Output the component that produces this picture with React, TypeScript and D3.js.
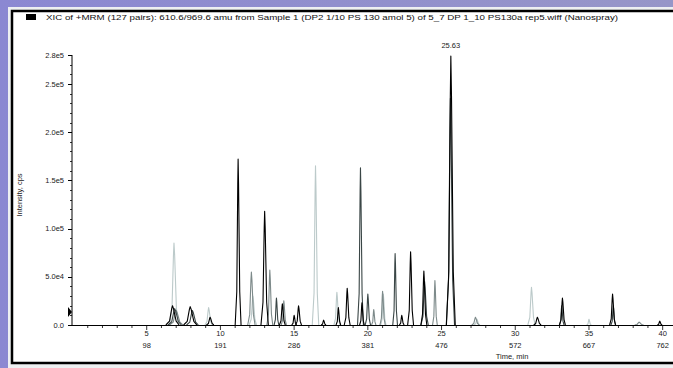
import React from "react";
import * as d3 from "d3";

const W = 673;
const H = 368;

const titleText =
  "XIC of +MRM (127 pairs): 610.6/969.6 amu from Sample 1 (DP2 1/10 PS 130 amol 5) of 5_7 DP 1_10 PS130a rep5.wiff (Nanospray)";

const yTickValues = [0, 5e4, 1e5, 1.5e5, 2e5, 2.5e5, 2.8e5];
const yTickLabels = ["0.0", "5.0e4", "1.0e5", "1.5e5", "2.0e5", "2.5e5", "2.8e5"];
const xTickTimes = [5, 10, 15, 20, 25, 30, 35, 40];
const xTickScans = ["98", "191", "286", "381", "476", "572", "667", "762"];

// peaks: [apex time (min), intensity (cps), half base width (min)]
const lightPeaks: [number, number, number][] = [
  [6.85, 8.5e4, 0.3],
  [9.2, 1.8e4, 0.25],
  [12.2, 3.0e4, 0.25],
  [16.45, 1.65e5, 0.22],
  [17.9, 3.4e4, 0.2],
  [21.05, 3.2e4, 0.18],
  [27.4, 0.6e4, 0.2],
  [31.1, 3.9e4, 0.25],
  [35.0, 0.6e4, 0.15],
];
const midPeaks: [number, number, number][] = [
  [7.0, 1.5e4, 0.45],
  [12.1, 5.5e4, 0.25],
  [13.35, 5.7e4, 0.2],
  [14.3, 2.5e4, 0.18],
  [20.4, 1.6e4, 0.15],
  [21.0, 3.5e4, 0.18],
  [24.55, 4.6e4, 0.16],
  [27.3, 0.8e4, 0.25],
  [38.4, 0.3e4, 0.3],
];
const darkPeaks: [number, number, number][] = [
  [6.9, 1.7e4, 0.45],
  [8.1, 1.5e4, 0.4],
  [13.8, 2.8e4, 0.16],
  [19.5, 1.63e5, 0.2],
  [20.0, 3.2e4, 0.18],
  [21.85, 7.4e4, 0.16],
  [23.85, 4.5e4, 0.25],
  [25.6, 2.35e5, 0.28],
  [33.15, 2.0e4, 0.16],
  [36.65, 2.0e4, 0.16],
];
const blackPeaks: [number, number, number][] = [
  [6.75, 2.0e4, 0.45],
  [7.95, 1.9e4, 0.45],
  [9.3, 0.8e4, 0.25],
  [11.2, 1.72e5, 0.2],
  [13.0, 1.18e5, 0.25],
  [14.2, 2.2e4, 0.2],
  [15.0, 1.0e4, 0.16],
  [15.3, 2.0e4, 0.2],
  [17.0, 0.5e4, 0.16],
  [18.0, 1.8e4, 0.16],
  [18.6, 3.8e4, 0.2],
  [19.6, 2.3e4, 0.16],
  [22.3, 1.0e4, 0.16],
  [22.9, 7.6e4, 0.2],
  [23.8, 5.6e4, 0.2],
  [25.63, 2.79e5, 0.3],
  [31.5, 0.8e4, 0.25],
  [33.2, 2.8e4, 0.2],
  [36.6, 3.2e4, 0.2],
  [39.8, 0.4e4, 0.16],
];

const seriesGroups = [
  { peaks: lightPeaks, color: "#bccaca" },
  { peaks: midPeaks, color: "#7d8a8a" },
  { peaks: darkPeaks, color: "#3a4646" },
  { peaks: blackPeaks, color: "#000000" },
];

const FONT = "'Liberation Sans', Arial, sans-serif";

export default function App() {
  const x = d3.scaleLinear().domain([0, 40.7]).range([73, 673]);
  const y = d3.scaleLinear().domain([0, 2.8e5]).range([325, 55]);
  const line = d3
    .line<[number, number]>()
    .x((d) => x(d[0]))
    .y((d) => y(d[1]));

  const peakPoints = (p: [number, number, number]): [number, number][] => [
    [p[0] - p[2], 0],
    [p[0] - p[2] * 0.45, p[1] * 0.2],
    [p[0] - p[2] * 0.12, p[1] * 0.85],
    [p[0], p[1]],
    [p[0] + p[2] * 0.15, p[1] * 0.85],
    [p[0] + p[2] * 0.55, p[1] * 0.2],
    [p[0] + p[2], 0],
  ];

  const minorY = d3.range(0, 2.8e5 + 1, 1e4);
  const minorX = d3.range(1, 41, 1);

  return (
    <div style={{ position: "fixed", left: 0, top: 0 }}>
      <svg width={W} height={H} style={{ display: "block" }}>
        <defs>
          <linearGradient id="bg" x1="0" y1="0" x2="1" y2="0">
            <stop offset="0" stopColor="#8b88d2" />
            <stop offset="1" stopColor="#9796c8" />
          </linearGradient>
        </defs>
        <rect x={0} y={0} width={W} height={H} fill="url(#bg)" />
        <rect x={8} y={7} width={W - 8} height={H - 7} fill="#eef0f2" />
        <rect x={12} y={11} width={W} height={352} fill="#ffffff" stroke="#000" strokeWidth={2.5} />
        <rect x={26} y={14} width={10} height={6} fill="#000" />
        <text
          x={46}
          y={20}
          fontFamily={FONT}
          fontSize={7.5}
          fill="#111"
          textLength={572}
          lengthAdjust="spacingAndGlyphs"
        >
          {titleText}
        </text>

        {/* traces */}
        {seriesGroups.map((g, gi) => (
          <g key={gi}>
            {g.peaks.map((p, pi) => (
              <path
                key={pi}
                d={line(peakPoints(p)) || ""}
                fill="none"
                stroke={g.color}
                strokeWidth={1.1}
                strokeLinejoin="round"
              />
            ))}
          </g>
        ))}

        {/* axes */}
        <line x1={72} x2={72} y1={y(2.8e5)} y2={325.5} stroke="#000" strokeWidth={1} />
        <line x1={72} x2={673} y1={325.5} y2={325.5} stroke="#000" strokeWidth={1} />
        {minorY.map((v, i) => (
          <line key={"my" + i} x1={70} x2={72} y1={Math.round(y(v)) + 0.5} y2={Math.round(y(v)) + 0.5} stroke="#000" strokeWidth={0.8} />
        ))}
        {yTickValues.map((v, i) => (
          <g key={"yt" + i}>
            <line x1={68} x2={72} y1={Math.round(y(v)) + 0.5} y2={Math.round(y(v)) + 0.5} stroke="#000" strokeWidth={1} />
            <text
              x={64}
              y={y(v)}
              dy="0.35em"
              textAnchor="end"
              fontFamily={FONT}
              fontSize={7.5}
              fill="#222"
            >
              {yTickLabels[i]}
            </text>
          </g>
        ))}
        {minorX.map((t, i) => (
          <line key={"mx" + i} x1={x(t)} x2={x(t)} y1={325.5} y2={t % 5 === 0 ? 330 : 328} stroke="#000" strokeWidth={0.8} />
        ))}
        {xTickTimes.map((t, i) => (
          <g key={"xt" + i}>
            <text x={x(t)} y={336} textAnchor="middle" fontFamily={FONT} fontSize={7.5} fill="#222">
              {String(t)}
            </text>
            <text x={x(t)} y={348} textAnchor="middle" fontFamily={FONT} fontSize={7.5} fill="#222">
              {xTickScans[i]}
            </text>
          </g>
        ))}
        <text x={512} y={359} textAnchor="middle" fontFamily={FONT} fontSize={7.5} fill="#222">
          Time, min
        </text>
        <text
          transform={`translate(22,195) rotate(-90)`}
          textAnchor="middle"
          fontFamily={FONT}
          fontSize={7.5}
          fill="#222"
        >
          Intensity, cps
        </text>
        {/* threshold marker */}
        <path d="M68,307 L72,312 L68,317 Z" fill="#000" />
        {/* apex label */}
        <text x={x(25.63)} y={48} textAnchor="middle" fontFamily={FONT} fontSize={7.5} fill="#222">
          25.63
        </text>
      </svg>
    </div>
  );
}
